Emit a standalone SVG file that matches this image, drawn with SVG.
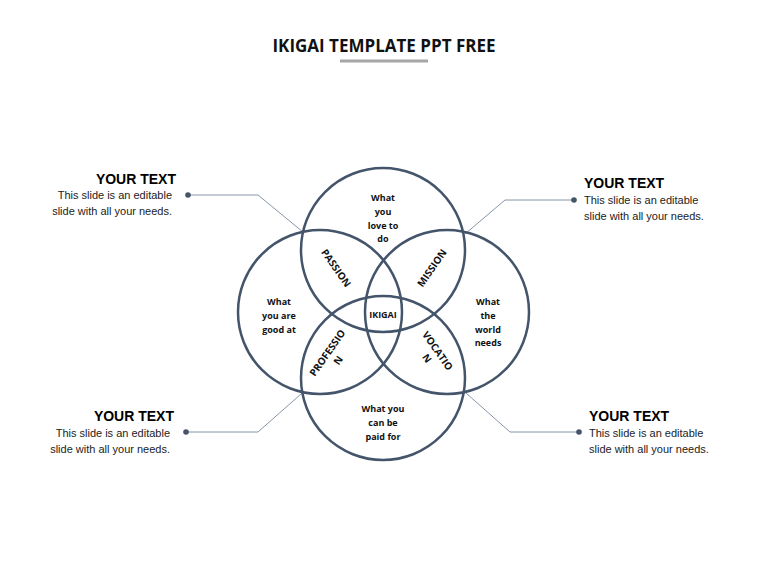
<svg xmlns="http://www.w3.org/2000/svg" width="768" height="576" viewBox="0 0 768 576">
<defs><style>
.c{fill:none;stroke:#44546a;stroke-width:2.5}
.l{fill:none;stroke:#8896a8;stroke-width:1}
.d{fill:#44546a}
.t{font-family:"Open Sans","Liberation Sans",sans-serif;font-weight:bold;font-size:9px;fill:#111;text-anchor:middle}
.r{font-family:"Open Sans","Liberation Sans",sans-serif;font-weight:bold;font-size:10px;fill:#111;text-anchor:middle}
.h{font-family:"Liberation Sans",Arial,sans-serif;font-weight:bold;font-size:14px;fill:#000}
.b{font-family:"Liberation Sans",Arial,sans-serif;font-size:11px;fill:#222}
</style></defs>
<rect width="768" height="576" fill="#fff"/>
<g id="title">
<text x="384" y="52" text-anchor="middle" style="font-family:'Open Sans','Liberation Sans',sans-serif;font-weight:bold;font-size:17px" fill="#111">IKIGAI TEMPLATE PPT FREE</text>
<rect x="340" y="59.5" width="88" height="3" fill="#a6a6a6"/>
</g>
<g id="connectors">
<polyline class="l" points="188,195 258,195 303,232"/>
<polyline class="l" points="574,200 505,200 465,234"/>
<polyline class="l" points="186,432 258,432 301,394"/>
<polyline class="l" points="579,432 510,432 466,393"/>
<circle class="d" cx="188" cy="195" r="2.8"/>
<circle class="d" cx="574" cy="200" r="2.8"/>
<circle class="d" cx="186" cy="432" r="2.8"/>
<circle class="d" cx="579" cy="432" r="2.8"/>
</g>
<g id="circle-top"><circle class="c" cx="383" cy="250" r="82"/>
<text class="t" x="383" y="201">What</text><text class="t" x="383" y="215">you</text><text class="t" x="383" y="229">love to</text><text class="t" x="383" y="242">do</text></g>
<g id="circle-left"><circle class="c" cx="320" cy="312" r="82"/>
<text class="t" x="279" y="305">What</text><text class="t" x="279" y="319">you are</text><text class="t" x="279" y="333">good at</text></g>
<g id="circle-right"><circle class="c" cx="447" cy="312" r="82"/>
<text class="t" x="488" y="305">What</text><text class="t" x="488" y="319">the</text><text class="t" x="488" y="333">world</text><text class="t" x="488" y="346">needs</text></g>
<g id="circle-bottom"><circle class="c" cx="383" cy="378" r="82"/>
<text class="t" x="383" y="412">What you</text><text class="t" x="383" y="426">can be</text><text class="t" x="383" y="440">paid for</text></g>
<g id="ikigai"><text class="t" x="383" y="318">IKIGAI</text></g>
<g id="passion"><text class="r" transform="translate(336,268) rotate(55)" y="3.5">PASSION</text></g>
<g id="mission"><text class="r" transform="translate(432,268) rotate(-55)" y="3.5">MISSION</text></g>
<g id="profession"><text class="r" transform="translate(332,356) rotate(-55)"><tspan x="0" y="-2">PROFESSIO</tspan><tspan x="0" y="11">N</tspan></text></g>
<g id="vocation"><text class="r" transform="translate(433,354) rotate(55)"><tspan x="0" y="-2">VOCATIO</tspan><tspan x="0" y="11">N</tspan></text></g>
<g id="text-tl"><text class="h" x="176" y="184" text-anchor="end">YOUR TEXT</text>
<text class="b" x="172" y="199" text-anchor="end">This slide is an editable</text><text class="b" x="172" y="215" text-anchor="end">slide with all your needs.</text></g>
<g id="text-tr"><text class="h" x="584" y="188">YOUR TEXT</text>
<text class="b" x="584" y="204">This slide is an editable</text><text class="b" x="584" y="220">slide with all your needs.</text></g>
<g id="text-bl"><text class="h" x="174" y="421" text-anchor="end">YOUR TEXT</text>
<text class="b" x="170" y="437" text-anchor="end">This slide is an editable</text><text class="b" x="170" y="453" text-anchor="end">slide with all your needs.</text></g>
<g id="text-br"><text class="h" x="589" y="421">YOUR TEXT</text>
<text class="b" x="589" y="437">This slide is an editable</text><text class="b" x="589" y="453">slide with all your needs.</text></g>
</svg>
